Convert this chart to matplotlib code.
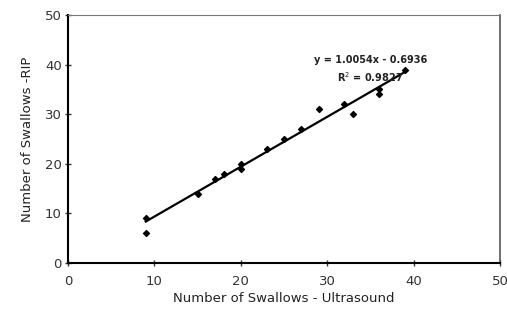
import matplotlib
matplotlib.use("Agg")
import matplotlib.pyplot as plt
import numpy as np

ultrasound = [9, 9, 15, 17, 18, 20, 20, 23, 25, 27, 29, 32, 33, 36, 36, 39]
rip = [6, 9, 14, 17, 18, 19, 20, 23, 25, 27, 31, 32, 30, 34, 35, 39]
slope, intercept = 1.0054, -0.6936
eq_text = "y = 1.0054x - 0.6936"
r2_text = "R$^2$ = 0.9827"
xticks = [0, 10, 20, 30, 40, 50]
yticks = [0, 10, 20, 30, 40, 50]

fig = plt.figure(figsize=(5.07, 3.10), dpi=100)
ax = fig.add_axes([68/507, 1-263/310, (500-68)/507, (263-15)/310])

xs = np.array([min(ultrasound), max(ultrasound)])
ax.plot(xs, slope*xs + intercept, color="black", lw=1.6, zorder=2)
ax.scatter(ultrasound, rip, marker="D", s=9, color="black", zorder=3)

ax.set_xlim(0, 50)
ax.set_ylim(0, 50)
ax.set_xticks(xticks)
ax.set_yticks(yticks)
ax.tick_params(direction="inout", length=5, width=1.0, labelsize=9.5, colors="#333333")
ax.tick_params(axis="x", pad=6)
ax.tick_params(axis="y", pad=2)

for s in ["left", "bottom"]:
    ax.spines[s].set_linewidth(1.5)
    ax.spines[s].set_color("black")
ax.spines["top"].set_linewidth(0.8)
ax.spines["top"].set_color("#777777")
ax.spines["right"].set_linewidth(1.2)
ax.spines["right"].set_color("#555555")

ax.set_xlabel("Number of Swallows - Ultrasound", fontsize=9.5, color="#222222", labelpad=3)
ax.set_ylabel("Number of Swallows -RIP", fontsize=9.5, color="#222222", labelpad=8)

ax.text(35, 41, eq_text, ha="center", va="center", fontsize=7, fontweight="bold", color="#222222")
ax.text(35, 37.5, r2_text, ha="center", va="center", fontsize=7, fontweight="bold", color="#222222")

fig.savefig("out.png", dpi=100)
